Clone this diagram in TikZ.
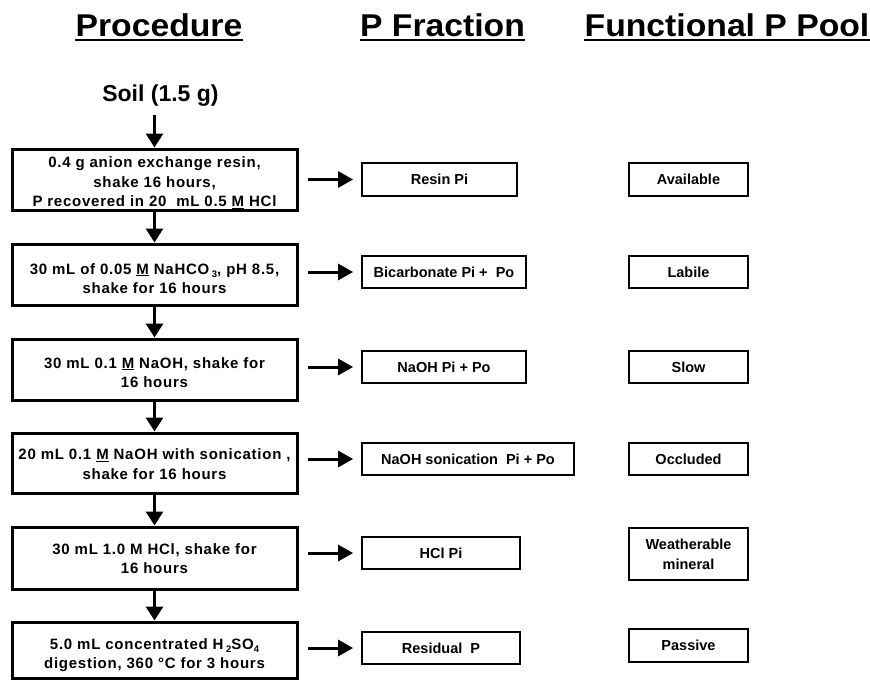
\documentclass[tikz,border=0pt]{standalone}
\usepackage{fontspec}
\setmainfont{Liberation Sans}
\newfontfamily\hdfont{Liberation Sans}[FakeStretch=1.07]
\newfontfamily\prfont{Liberation Sans}[LetterSpace=5]
\usetikzlibrary{arrows.meta}
\newcommand\sbs[1]{\raisebox{-0.45ex}{\fontsize{9.5}{9.5}\selectfont #1}}
\newcommand\um{\underline{M}}
\newcommand\lo[1]{\rule{0pt}{#1}}
\begin{document}
\begin{tikzpicture}[x=1pt,y=-1pt,
  hd/.style={inner sep=0pt,font=\hdfont\fontsize{31.5}{31.5}\selectfont\bfseries},
  ul/.style={line width=2pt},
  proc/.style={draw,line width=3pt,align=center,inner sep=0pt,minimum width=285pt,
    font=\prfont\fontsize{15}{19.5}\selectfont\bfseries},
  frac/.style={draw,line width=2.8pt,align=center,inner sep=0pt,minimum height=32pt,
    font=\fontsize{14.5}{19}\selectfont\bfseries},
  pool/.style={frac,minimum width=119pt},
  varr/.style={line width=3pt,-{Triangle[width=17pt,length=14pt]}},
  harr/.style={line width=3pt,-{Triangle[width=16pt,length=15pt]},shorten <=9.5pt,shorten >=7.5pt}
]
\useasboundingbox (0,0) rectangle (870,680);

% headers
\node[hd,anchor=base] (h1) at (159,36) {Procedure};
\node[hd,anchor=base] (h2) at (442.5,36) {P Fraction};
\node[hd,anchor=base] (h3) at (727,36) {Functional P Pool};
\foreach \h in {h1,h2,h3}
  \draw[ul] ([yshift=-3.5pt]\h.base west) -- ([yshift=-3.5pt]\h.base east);

% soil
\node[font=\fontsize{23}{23}\selectfont\bfseries,inner sep=0pt,anchor=base] (soil) at (160.5,101.5) {Soil (1.5 g)};
\coordinate (s0) at (154.5,115);

% procedure boxes
\node[proc,minimum height=61pt] (p1) at (154.5,179.5)
  {\lo{17pt}0.4 g anion exchange resin,\\ shake 16 hours,\\ P recovered in 20\ \ mL 0.5 \um\ HCl};
\node[proc,minimum height=61pt] (p2) at (154.5,274.5)
  {\lo{19pt}30 mL of 0.05 \um\ NaHCO\,\sbs{3}, pH 8.5,\\ shake for 16 hours};
\node[proc,minimum height=61pt] (p3) at (154.5,369.5)
  {\lo{17pt}30 mL 0.1 \um\ NaOH, shake for\\ 16 hours};
\node[proc,minimum height=60pt] (p4) at (154.5,463)
  {\lo{13pt}20 mL 0.1 \um\ NaOH with sonication ,\\ shake for 16 hours};
\node[proc,minimum height=62pt] (p5) at (154.5,558)
  {\lo{12pt}30 mL 1.0 M HCl, shake for\\ 16 hours};
\node[proc,minimum height=56pt] (p6) at (154.5,650)
  {\lo{21pt}5.0 mL concentrated H\,\sbs{2}SO\sbs{4}\\ digestion, 360 °C for 3 hours};

% fraction boxes
\node[frac,minimum width=155pt,minimum height=33pt] (f1) at (439.5,179.5) {Resin Pi};
\node[frac,minimum width=164pt] (f2) at (444,272) {Bicarbonate Pi +\ \ Po};
\node[frac,minimum width=164pt] (f3) at (444,367) {NaOH Pi + Po};
\node[frac,minimum width=212pt] (f4) at (468,459) {NaOH sonication\ \ Pi + Po};
\node[frac,minimum width=158pt] (f5) at (441,553) {HCl Pi};
\node[frac,minimum width=158pt] (f6) at (441,648) {Residual\ \ P};

% pool boxes
\node[pool,minimum height=33pt] (q1) at (688.5,179.5) {Available};
\node[pool] (q2) at (688.5,272) {Labile};
\node[pool] (q3) at (688.5,367) {Slow};
\node[pool] (q4) at (688.5,459) {Occluded};
\node[pool,minimum height=52pt,font=\fontsize{14.5}{20}\selectfont\bfseries] (q5) at (688.5,554) {Weatherable\\ mineral};
\node[pool,minimum height=33pt] (q6) at (688.5,645.5) {Passive};

% vertical arrows
\draw[varr] (s0) -- (p1.north);
\draw[varr] (p1.south) -- (p2.north);
\draw[varr] (p2.south) -- (p3.north);
\draw[varr] (p3.south) -- (p4.north);
\draw[varr] (p4.south) -- (p5.north);
\draw[varr] (p5.south) -- (p6.north);

% horizontal arrows
\foreach \i in {1,...,6}
  \draw[harr] (f\i.west -| p\i.east) -- (f\i.west);
\end{tikzpicture}
\end{document}
